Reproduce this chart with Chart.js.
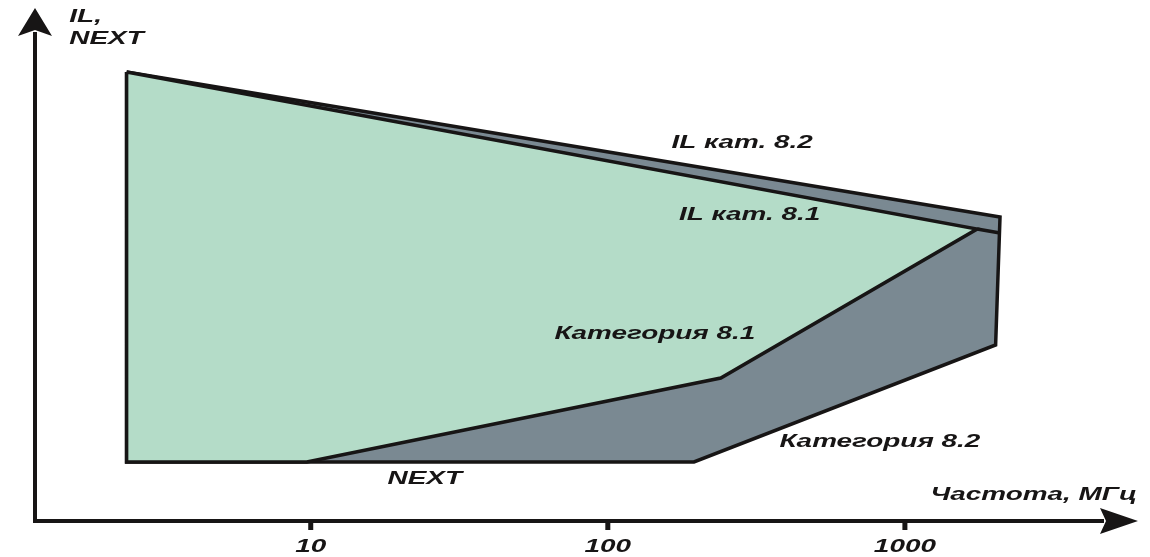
<!DOCTYPE html>
<html lang="ru">
<head>
    <meta charset="UTF-8">
    <title>IL, NEXT — частота</title>
    <script src="https://cdn.jsdelivr.net/npm/chart.js"></script>
    <style>
        * { margin: 0; padding: 0; box-sizing: border-box; }
        body { background: #fff; }
        .wrap { width: 1150px; height: 557px; position: relative; }
    </style>
</head>
<body>
<div class="wrap"><canvas id="chart"></canvas></div>

<script>
    // ось частот (МГц), подписи делений
    const freqTicks = [10, 100, 1000];

    // внешний контур (категория 8.2 + полоса IL кат. 8.2)
    const outerFreq  = [2.4, 2090, 2020, 195, 2.4, 2.4];
    const outerLevel = [449, 304, 176, 59, 59, 449];

    // область категории 8.1
    const cat81Freq  = [2.4, 1750, 240, 9.7, 2.4, 2.4];
    const cat81Level = [449, 292, 143, 59, 59, 449];

    // продолжение линии IL кат. 8.1 до края
    const il81Freq  = [1750, 2090];
    const il81Level = [292, 288];

    // надписи на схеме
    const notes = [
        { text: 'IL кат. 8.2',   freq: 283,  level: 373, align: 'center' },
        { text: 'IL кат. 8.1',   freq: 300,  level: 301, align: 'center' },
        { text: 'Категория 8.1', freq: 144,  level: 182, align: 'center' },
        { text: 'Категория 8.2', freq: 824,  level: 74,  align: 'center' },
        { text: 'NEXT',          freq: 24.2, level: 37,  align: 'center' },
        { text: 'Частота, МГц',  freq: 6040, level: 21,  align: 'right' },
        { text: 'IL,',           freq: 1.54, level: 499, align: 'left' },
        { text: 'NEXT',          freq: 1.54, level: 477, align: 'left' }
    ];

    const toPoints = (xs, ys) => xs.map((v, i) => ({ x: v, y: ys[i] }));

    const INK = '#171515';
    const FONT = 'bold italic 18px "Liberation Sans", Arial, sans-serif';
    const STRETCH = 1.55;

    function stretchedText(ctx, text, px, py, align) {
        ctx.save();
        ctx.translate(px, py);
        ctx.scale(STRETCH, 1);
        ctx.textAlign = align;
        ctx.textBaseline = 'alphabetic';
        ctx.fillText(text, 0, 0);
        ctx.restore();
    }

    const schemePlugin = {
        id: 'scheme',
        afterDraw(chart) {
            const { ctx, chartArea: a, scales: { x, y } } = chart;
            ctx.save();
            ctx.fillStyle = INK;
            ctx.strokeStyle = INK;

            // оси
            ctx.lineWidth = 4;
            ctx.beginPath();
            ctx.moveTo(a.left, a.bottom + 2);
            ctx.lineTo(a.left, a.top + 24);
            ctx.moveTo(a.left - 2, a.bottom);
            ctx.lineTo(a.right - 34, a.bottom);
            ctx.stroke();

            // стрелки
            ctx.beginPath();
            ctx.moveTo(a.left, a.top);
            ctx.lineTo(a.left + 17, a.top + 28);
            ctx.lineTo(a.left, a.top + 22);
            ctx.lineTo(a.left - 17, a.top + 28);
            ctx.closePath();
            ctx.fill();

            ctx.beginPath();
            ctx.moveTo(a.right, a.bottom);
            ctx.lineTo(a.right - 38, a.bottom - 13);
            ctx.lineTo(a.right - 32, a.bottom);
            ctx.lineTo(a.right - 38, a.bottom + 13);
            ctx.closePath();
            ctx.fill();

            // деления и подписи
            ctx.font = FONT;
            freqTicks.forEach(v => {
                const px = x.getPixelForValue(v);
                ctx.fillRect(px - 2.5, a.bottom, 5, 9);
                stretchedText(ctx, String(v), px, a.bottom + 31, 'center');
            });

            notes.forEach(n => {
                stretchedText(ctx, n.text, x.getPixelForValue(n.freq), y.getPixelForValue(n.level), n.align);
            });
            ctx.restore();
        }
    };

    const common = {
        showLine: true,
        pointRadius: 0,
        pointHoverRadius: 0,
        borderColor: INK,
        borderWidth: 3.5,
        borderJoinStyle: 'miter',
        tension: 0
    };

    new Chart(document.getElementById('chart'), {
        type: 'scatter',
        data: {
            datasets: [
                { ...common, label: 'Категория 8.2', data: toPoints(outerFreq, outerLevel),
                  fill: 'shape', backgroundColor: '#7a8992', order: 3 },
                { ...common, label: 'Категория 8.1', data: toPoints(cat81Freq, cat81Level),
                  fill: 'shape', backgroundColor: '#b4dcc8', order: 2 },
                { ...common, label: 'IL кат. 8.1', data: toPoints(il81Freq, il81Level),
                  fill: false, order: 1 }
            ]
        },
        options: {
            responsive: true,
            maintainAspectRatio: false,
            animation: false,
            events: [],
            layout: { padding: { left: 35, right: 12, top: 8, bottom: 36 } },
            plugins: { legend: { display: false }, tooltip: { enabled: false } },
            scales: {
                x: { type: 'logarithmic', min: 1.18, max: 6090, bounds: 'data', display: false },
                y: { type: 'linear', min: 0, max: 513, display: false }
            }
        },
        plugins: [schemePlugin]
    });
</script>
</body>
</html>
